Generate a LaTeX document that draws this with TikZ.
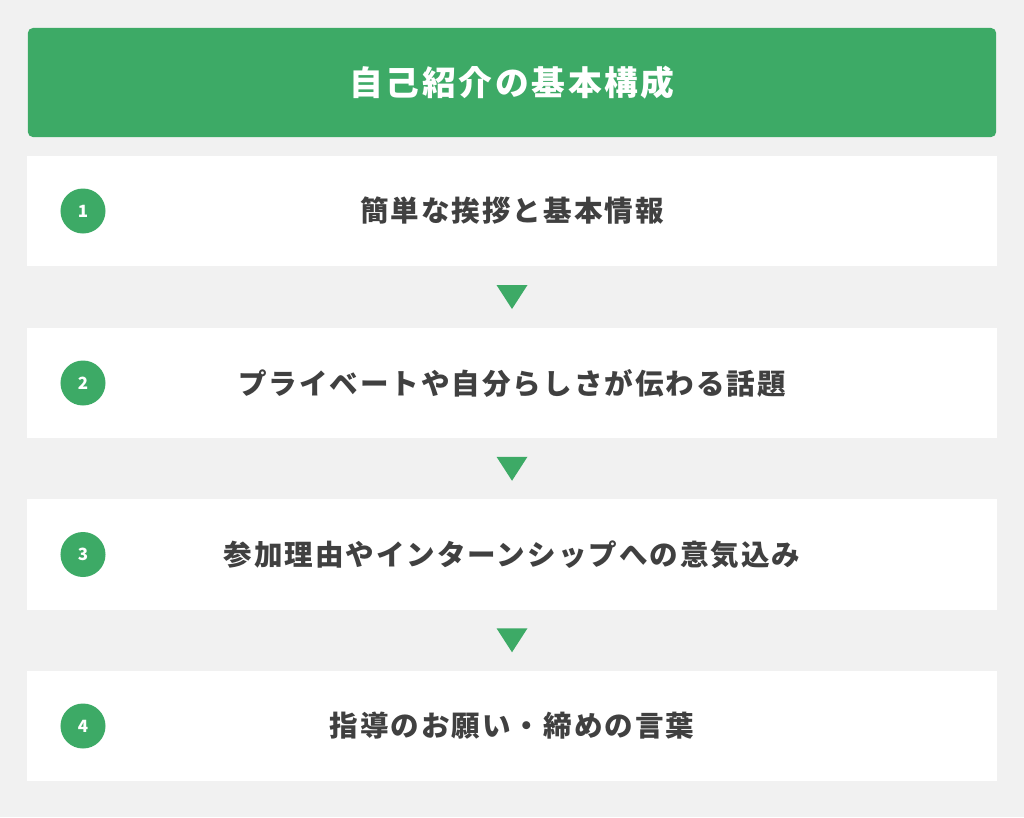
\documentclass[tikz,border=0pt]{standalone}
\usepackage{fontspec}
\setmainfont{Noto Sans CJK JP}
\newfontfamily\headfont{Noto Sans CJK JP}[LetterSpace=8]
\newfontfamily\rowfont{Noto Sans CJK JP}[LetterSpace=7]
\usetikzlibrary{positioning,calc}
\definecolor{bggray}{HTML}{F1F1F1}
\definecolor{stepgreen}{HTML}{3DAA66}
\definecolor{textgray}{HTML}{404040}
\begin{document}
\begin{tikzpicture}[x=0.025cm,y=-0.025cm]
\tikzset{every node/.style={inner sep=0pt},
  headbox/.style={fill=stepgreen,rounded corners=0.125cm,minimum width=24.2cm,minimum height=2.725cm,text=white,font=\headfont\fontsize{24}{28}\selectfont\bfseries},
  rowbox/.style={fill=white,minimum width=24.225cm,minimum height=2.75cm,text=textgray,font=\rowfont\fontsize{20.3}{24}\selectfont\bfseries},
  numdot/.style={circle,fill=stepgreen,minimum size=1.125cm,text=white,font=\fontsize{12}{14}\selectfont\bfseries},
  arrowtri/.style={fill=stepgreen}}
\fill [bggray] (0,0) rectangle (1024,817);
\useasboundingbox (0,0) rectangle (1024,817);
\node [headbox] (head) at (512,82.5) {自己紹介の基本構成};
\node [rowbox] (r1) at (512,211) {簡単な挨拶と基本情報};
\node [rowbox] (r2) at (512,383) {プライベートや自分らしさが伝わる話題};
\node [rowbox] (r3) at (512,554.5) {参加理由やインターンシップへの意気込み};
\node [rowbox] (r4) at (512,726) {指導のお願い・締めの言葉};
\node [numdot] (n1) at (83,211) {1};
\node [numdot] (n2) at (83,383) {2};
\node [numdot] (n3) at (83,554.5) {3};
\node [numdot] (n4) at (83,726) {4};
\foreach \a/\b in {r1/r2,r2/r3,r3/r4}
  \fill [arrowtri] ($(\a.south)!0.5!(\b.north)$) ++(-15.5,-12) -- ++(31,0) -- ++(-15.5,24) -- cycle;
\end{tikzpicture}
\end{document}
